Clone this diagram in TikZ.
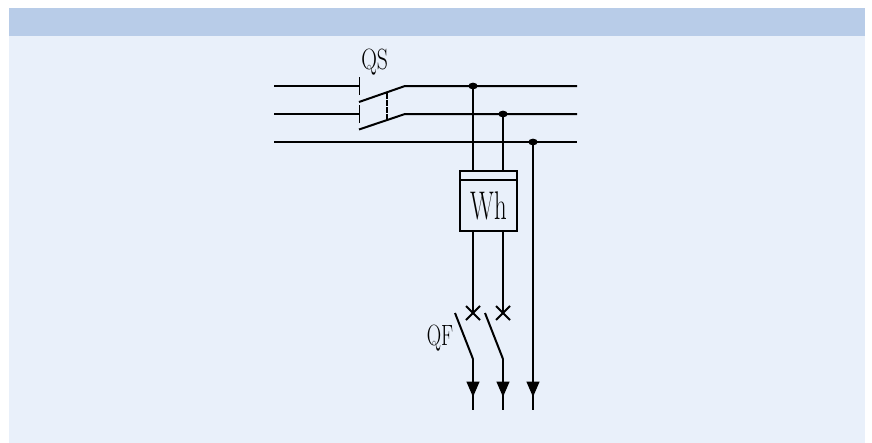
\documentclass[tikz,border=0pt]{standalone}
\usetikzlibrary{arrows.meta,calc,positioning,shapes.geometric}
\definecolor{headblue}{RGB}{184,204,232}
\definecolor{bodyblue}{RGB}{233,240,250}
\tikzset{
        wire/.style={draw=black,line width=1.5pt},
        junction/.style={fill=black,ellipse,inner sep=0pt,minimum width=7pt,minimum height=5pt},
        feedtip/.style={-{Triangle[length=11.5pt,width=9.5pt]}},
}
\newcommand{\labelfont}[2]{\fontsize{#1}{#1}\selectfont\scalebox{#2}[1]}

\begin{document}
\begin{tikzpicture}[x=.75pt,y=-.75pt]
        \useasboundingbox (0,0) rectangle (872,443);
        \fill[bodyblue] (9,8) rectangle (865,443);
        \fill[headblue] (9,8) rectangle (865,36);

        % bus bars
        \coordinate (busa) at (274,86);
        \coordinate (busb) at (274,114);
        \coordinate (busc) at (274,142);
        \coordinate (enda) at (577,86);
        \coordinate (endb) at (577,114);
        \coordinate (endc) at (577,142);
        \coordinate (fixa) at (359,86);
        \coordinate (fixb) at (359,114);
        \coordinate (hingea) at (405,86);
        \coordinate (hingeb) at (405,114);
        \coordinate (blada) at (359,102);
        \coordinate (bladb) at (359,129.5);

        \draw[wire] (busa) -- (fixa);
        \draw[wire] (busb) -- (fixb);
        \draw[wire] (busc) -- (endc);
        \draw[wire] (blada) -- (hingea) -- (enda);
        \draw[wire] (bladb) -- (hingeb) -- (endb);
        \draw[wire,line width=.75pt] ($(fixa)+(0,-9)$) -- ($(fixa)+(0,9)$);
        \draw[wire,line width=.75pt] ($(fixb)+(0,-9)$) -- ($(fixb)+(0,9)$);
        \draw[wire,dash pattern=on 4.5pt off .8pt] (387,93) -- (387,120);
        \node (qs) at (374.7,62.3) {\labelfont{22pt}{.74}{QS}};

        % meter
        \node[wire,minimum width=42.75pt,minimum height=45pt,inner sep=0pt] (meter) at (488.5,201) {};
        \draw[wire] ($(meter.north west)+(0,10)$) -- ($(meter.north east)+(0,10)$);
        \node (wh) at (489,205.5) {\labelfont{30pt}{.62}{Wh}};

        % feeders
        \foreach \name/\x/\y in {a/473/86,b/503/114,c/533/142}{
                \node[junction] (dot\name) at (\x,\y) {};
                \coordinate (tip\name) at (\x,397);
                \coordinate (neck\name) at (\x,388);
                \coordinate (out\name) at (\x,410);
        }
        \foreach \name/\x in {a/473,b/503}{
                \coordinate (top\name) at (\x,171);
                \coordinate (low\name) at (\x,231);
                \coordinate (cross\name) at (\x,313);
                \coordinate (pivot\name) at (\x,359);
                \coordinate (open\name) at ($(\x,313)+(-18,0)$);
                \draw[wire] (dot\name.center) -- (top\name);
                \draw[wire] (low\name) -- (cross\name);
                \draw[wire] ($(cross\name)+(-7,-7)$) -- ($(cross\name)+(7,7)$);
                \draw[wire] ($(cross\name)+(-7,7)$) -- ($(cross\name)+(7,-7)$);
                \draw[wire] (open\name) -- (pivot\name);
                \draw[wire,feedtip] (pivot\name) -- (tip\name);
                \draw[wire] (neck\name) -- (out\name);
        }
        \draw[wire,feedtip] (dotc.center) -- (tipc);
        \draw[wire] (neckc) -- (outc);
        \node (qf) at (440,338) {\labelfont{22pt}{.68}{QF}};
\end{tikzpicture}
\end{document}
